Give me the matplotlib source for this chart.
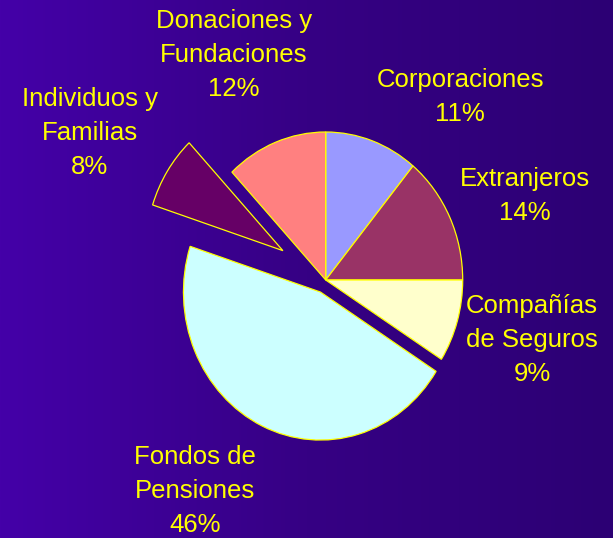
import numpy as np
import matplotlib
matplotlib.use("Agg")
import matplotlib.pyplot as plt
from matplotlib.colors import LinearSegmentedColormap

# ---- data ----
categories = ["Corporaciones", "Extranjeros", "Compañías\nde Seguros",
              "Fondos de\nPensiones", "Individuos y\nFamilias",
              "Donaciones y\nFundaciones"]
values = [11, 14, 9, 46, 8, 12]

# ---- styles / layout ----
colors = ["#9999ff", "#993366", "#ffffcc", "#ccffff", "#660066", "#ff8080"]
explode = [0, 0, 0, 0.09, 0.37, 0]
label_pos = [(460, 97), (525, 196), (532, 340), (195, 491), (90, 133), (234, 55)]

W, H = 613, 538
fig = plt.figure(figsize=(W / 100, H / 100), dpi=100)

# background gradient
bg = fig.add_axes([0, 0, 1, 1], zorder=0)
grad = np.linspace(0, 1, 256).reshape(1, -1)
cmap = LinearSegmentedColormap.from_list("bg", ["#4400a8", "#360084", "#2c0074"])
bg.imshow(grad, aspect="auto", cmap=cmap, extent=[0, 1, 0, 1])
bg.set_axis_off()

ax = fig.add_axes([0, 0, 1, 1], zorder=1)
ax.patch.set_alpha(0)
ax.pie(values, colors=colors, explode=explode, startangle=90, counterclock=False,
       wedgeprops=dict(edgecolor="#ffff00", linewidth=0.9))
cx, cy, rx, ry = 325.7, 280.0, 137.0, 148.0
ax.set_aspect("auto")
ax.set_xlim(-cx / rx, (W - cx) / rx)
ax.set_ylim(-(H - cy) / ry, cy / ry)
ax.set_axis_off()

for cat, v, (px, py) in zip(categories, values, label_pos):
    fig.text(px / W, 1 - py / H, f"{cat}\n{v}%", ha="center", va="center",
             color="#ffff00", fontsize=18.5, family="Liberation Sans",
             linespacing=1.53, multialignment="center")

fig.savefig("out.png", dpi=100)
